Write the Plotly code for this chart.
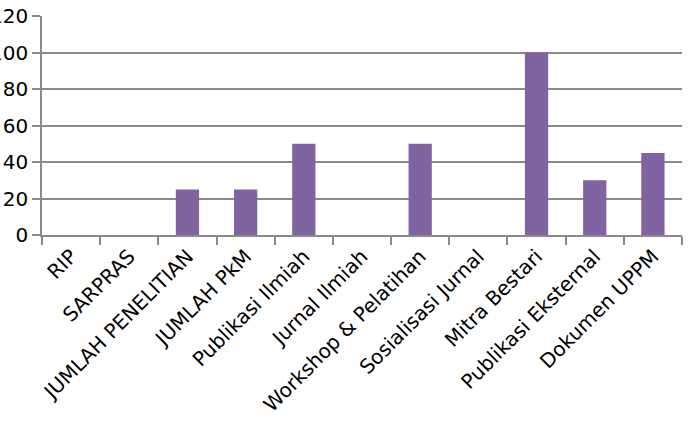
import plotly.graph_objects as go

categories = ["RIP", "SARPRAS", "JUMLAH PENELITIAN", "JUMLAH PkM", "Publikasi Ilmiah",
              "Jurnal Ilmiah", "Workshop & Pelatihan", "Sosialisasi Jurnal", "Mitra Bestari",
              "Publikasi Eksternal", "Dokumen UPPM"]
values = [0, 0, 25, 25, 50, 0, 50, 0, 100, 30, 45]
y_ticks = [0, 20, 40, 60, 80, 100, 120]

grid = "#8a8a8a"
fig = go.Figure(go.Bar(x=categories, y=values, marker=dict(color="#8064A2", line=dict(width=0))))
fig.update_layout(
    width=691, height=424,
    margin=dict(l=42, r=9, t=16, b=189),
    paper_bgcolor="white", plot_bgcolor="white",
    bargap=0.6, showlegend=False,
    font=dict(family="DejaVu Sans", size=18, color="black"),
)
fig.update_xaxes(
    type="category", tickangle=-45, tickson="boundaries", automargin=False,
    ticks="outside", ticklen=8, tickcolor=grid, tickwidth=1.5,
    showline=True, linecolor=grid, linewidth=1.5,
    showgrid=False, tickfont=dict(size=20),
)
fig.update_yaxes(
    range=[0, 120], tickvals=y_ticks, ticks="outside", ticklen=8, automargin=False,
    tickcolor=grid, tickwidth=1.5,
    showline=True, linecolor=grid, linewidth=1.5,
    showgrid=True, gridcolor=grid, gridwidth=1.5, zeroline=False,
    tickfont=dict(size=20),
)
fig.write_html("out.html")
